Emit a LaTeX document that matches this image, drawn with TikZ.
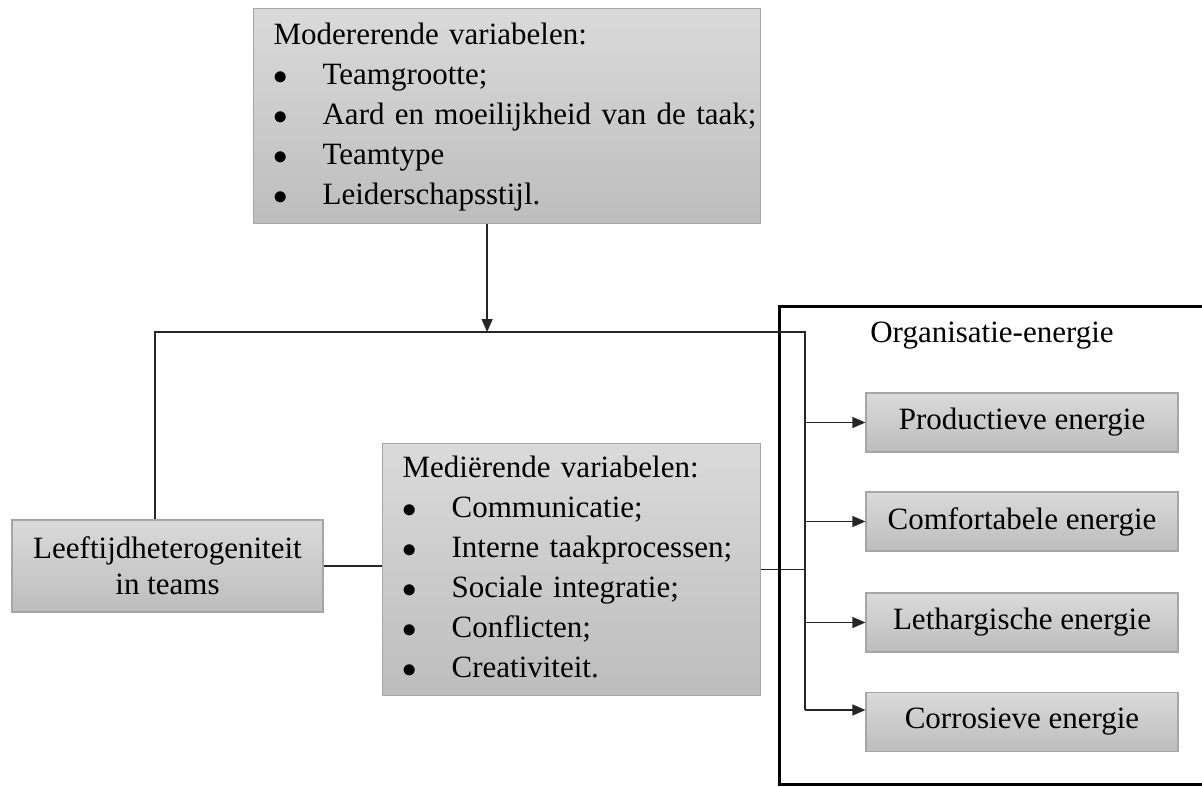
\documentclass[tikz,border=0pt]{standalone}
\usepackage{fontspec}
\setmainfont{Liberation Serif}
\usetikzlibrary{arrows.meta}
\definecolor{vaktop}{HTML}{DADADA}
\definecolor{vakbodem}{HTML}{BDBDBD}
\definecolor{vakrand}{HTML}{A6A6A6}
\definecolor{lijnkleur}{HTML}{262626}

\begin{document}
\begin{tikzpicture}[x=0.5pt,y=-0.5pt]
\tikzset{tekst/.style={font=\fontsize{15.5}{20}\selectfont},
vak/.style={tekst, draw=vakrand, line width=0.6pt, top color=vaktop, bottom color=vakbodem, inner sep=0pt},
lijstvak/.style={vak, anchor=north west, align=left, inner xsep=10pt},
energievak/.style={vak, minimum width=156pt, minimum height=29.5pt},
lijn/.style={draw=lijnkleur, line width=0.7pt},
pijl/.style={lijn, -{Triangle[length=6.5pt,width=5.5pt]}}}
\useasboundingbox (0,0) rectangle (1202,786);
\clip (0,0) rectangle (1202,786);
\draw[line width=1.5pt] (779,306) rectangle (1216,784);
\node[tekst] (orgtitel) at (992,336) {Organisatie-energie};
\node[lijstvak, text width=233.5pt, minimum height=107.5pt] (moder) at (253,8)
{\begin{tabular}{@{}p{24.5pt}@{}l@{}}
\multicolumn{2}{@{}l@{}}{Modererende variabelen:}\\
$\bullet$ & Teamgrootte;\\
$\bullet$ & Aard en moeilijkheid van de taak;\\
$\bullet$ & Teamtype\\
$\bullet$ & Leiderschapsstijl.
\end{tabular}};
\node[lijstvak, text width=169pt, minimum height=126pt] (medi) at (382,443)
{\begin{tabular}{@{}p{24.5pt}@{}l@{}}
\multicolumn{2}{@{}l@{}}{Mediërende variabelen:}\\
$\bullet$ & Communicatie;\\
$\bullet$ & Interne taakprocessen;\\
$\bullet$ & Sociale integratie;\\
$\bullet$ & Conflicten;\\
$\bullet$ & Creativiteit.
\end{tabular}};
\node[vak, minimum width=155.5pt, minimum height=46pt, align=center, font=\fontsize{15.5}{18}\selectfont] (leeftijd) at (167.5,566) {Leeftijdheterogeniteit\\in teams};
\node[energievak] (prod) at (1022,422.5) {Productieve energie};
\node[energievak] (comf) at (1022,521.5) {Comfortabele energie};
\node[energievak] (leth) at (1022,622.5) {Lethargische energie};
\node[energievak] (corr) at (1022,722) {Corrosieve energie};
\coordinate (links) at (155,332);
\coordinate (splits) at (805,332);
\coordinate (pijlvoet) at ([xshift=-10pt]moder.south);
\coordinate (corrin) at ([yshift=6pt]corr.west);
\draw[pijl] (pijlvoet) -- (pijlvoet |- links);
\draw[lijn] (leeftijd.north -| links) -- (links) -- (splits) -- (splits |- corrin);
\draw[lijn] (leeftijd.east) -- (leeftijd.east -| medi.west);
\draw[lijn] (medi.east) -- (medi.east -| splits);
\foreach \e in {prod,comf,leth}
  \draw[pijl] (splits |- \e.west) -- (\e.west);
\draw[pijl] (splits |- corrin) -- (corrin);
\end{tikzpicture}
\end{document}
